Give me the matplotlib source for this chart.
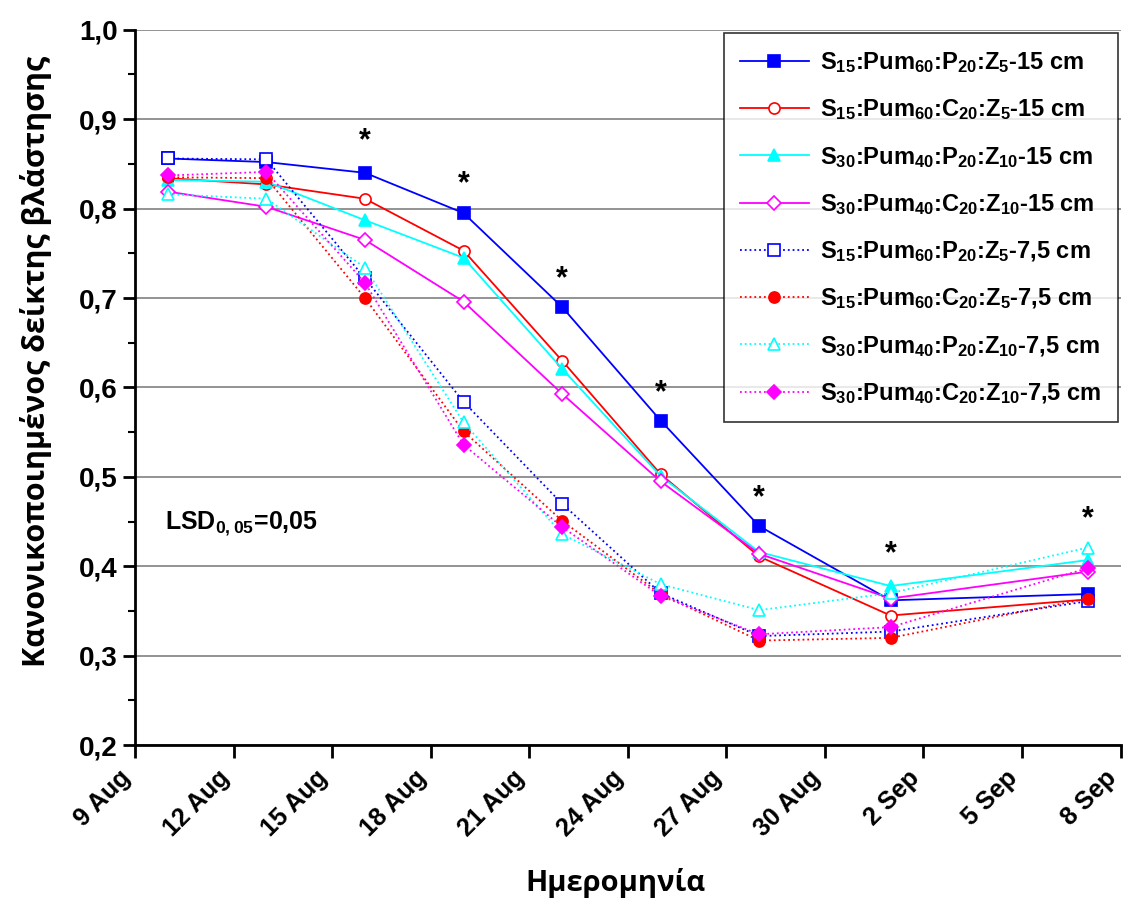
import matplotlib
matplotlib.use('Agg')
import matplotlib.pyplot as plt
import matplotlib.transforms as mtransforms
import numpy as np
import pandas as pd

plt.rcParams['font.family'] = ['Liberation Sans', 'DejaVu Sans']
plt.rcParams['mathtext.fontset'] = 'custom'
plt.rcParams['mathtext.bf'] = 'Liberation Sans:bold'
plt.rcParams['mathtext.rm'] = 'Liberation Sans:bold'

dates = pd.to_datetime(['2013-08-10', '2013-08-13', '2013-08-16', '2013-08-19', '2013-08-22',
                        '2013-08-25', '2013-08-28', '2013-09-01', '2013-09-07'])
tick_dates = pd.date_range('2013-08-09', '2013-09-08', freq='3D')
tick_labels = ['9 Aug', '12 Aug', '15 Aug', '18 Aug', '21 Aug', '24 Aug',
               '27 Aug', '30 Aug', '2 Sep', '5 Sep', '8 Sep']

# 15 cm
s15_p20_15 = [0.856, 0.852, 0.840, 0.795, 0.690, 0.563, 0.445, 0.362, 0.369]
s15_c20_15 = [0.834, 0.827, 0.811, 0.753, 0.630, 0.503, 0.411, 0.345, 0.363]
s30_p20_15 = [0.832, 0.830, 0.787, 0.745, 0.621, 0.501, 0.416, 0.378, 0.407]
s30_c20_15 = [0.819, 0.802, 0.765, 0.696, 0.593, 0.495, 0.414, 0.364, 0.394]
# 7,5 cm
s15_p20_75 = [0.856, 0.855, 0.722, 0.584, 0.470, 0.370, 0.322, 0.327, 0.361]
s15_c20_75 = [0.835, 0.834, 0.700, 0.551, 0.451, 0.369, 0.317, 0.320, 0.364]
s30_p20_75 = [0.816, 0.811, 0.734, 0.561, 0.436, 0.380, 0.351, 0.370, 0.421]
s30_c20_75 = [0.837, 0.841, 0.717, 0.536, 0.444, 0.367, 0.324, 0.332, 0.398]

star_dates = dates[2:]
star_y = [0.875, 0.827, 0.721, 0.593, 0.476, 0.413, 0.453]


def lab(a, b, c, d, depth):
    return (r'S$\mathbf{_{%s}}$:Pum$\mathbf{_{%s}}$:%s$\mathbf{_{20}}$:Z$\mathbf{_{%s}}$-%s cm'
            % (a, b, c, d, depth))


series = [
    (s15_p20_15, '#0000ff', '-', 's', True, lab('15', '60', 'P', '5', '15')),
    (s15_c20_15, '#ff0000', '-', 'o', False, lab('15', '60', 'C', '5', '15')),
    (s30_p20_15, '#00ffff', '-', '^', True, lab('30', '40', 'P', '10', '15')),
    (s30_c20_15, '#ff00ff', '-', 'D', False, lab('30', '40', 'C', '10', '15')),
    (s15_p20_75, '#0000ff', ':', 's', False, lab('15', '60', 'P', '5', '7,5')),
    (s15_c20_75, '#ff0000', ':', 'o', True, lab('15', '60', 'C', '5', '7,5')),
    (s30_p20_75, '#00ffff', ':', '^', False, lab('30', '40', 'P', '10', '7,5')),
    (s30_c20_75, '#ff00ff', ':', 'D', True, lab('30', '40', 'C', '10', '7,5')),
]

fig = plt.figure(figsize=(11.25, 9), dpi=100)
ax = fig.add_axes([0.12, 0.172, 0.876, 0.795])

for vals, col, ls, mk, filled, label in series:
    ms = {'s': 8, 'o': 8, '^': 9, 'D': 7.5}[mk]
    ax.plot(dates, vals, color=col, linestyle=ls, linewidth=1.3, marker=mk, markersize=ms,
            markerfacecolor=col if filled else 'white', markeredgecolor=col,
            markeredgewidth=1.2, label=label, zorder=3)

for d, y in zip(star_dates, star_y):
    ax.text(d, y, '*', ha='center', va='center', fontsize=22, fontweight='bold', zorder=4)

ax.text(0.03, 0.31, r'LSD$\mathbf{_{0,05}}$=0,05', transform=ax.transAxes, fontsize=18,
        fontweight='bold', ha='left', va='center')

ax.set_ylim(0.2, 1.0)
ax.set_xlim(tick_dates[0], tick_dates[-1])
ax.set_yticks(np.arange(0.2, 1.01, 0.1))
ax.set_yticklabels(['0,2', '0,3', '0,4', '0,5', '0,6', '0,7', '0,8', '0,9', '1,0'],
                   fontsize=20, fontweight='bold')
ax.set_yticks(np.arange(0.25, 1.0, 0.1), minor=True)
ax.set_xticks(tick_dates)
ax.set_xticklabels(tick_labels, rotation=45, ha='right', va='center', rotation_mode='anchor',
                   fontsize=18, fontweight='bold')
ax.tick_params(axis='both', which='major', direction='out', length=9, width=2)
ax.tick_params(axis='x', which='major', pad=12)
ax.tick_params(axis='y', which='minor', direction='out', length=5, width=1.5)
shift = mtransforms.ScaledTranslation(-8 / 100, 0, fig.dpi_scale_trans)
for t in ax.get_xticklabels():
    t.set_transform(t.get_transform() + shift)
ax.grid(axis='y', color='#808080', linewidth=1.2)
ax.set_axisbelow(True)
for s in ['top', 'right']:
    ax.spines[s].set_visible(False)
for s in ['left', 'bottom']:
    ax.spines[s].set_linewidth(2)

ax.set_xlabel('Ημερομηνία', fontsize=21, fontweight='bold',
              family=['Open Sans', 'DejaVu Sans'])
ax.xaxis.set_label_coords(0.487, -0.172)
ax.set_ylabel('Κανονικοποιημένος δείκτης βλάστησης', fontsize=22, fontweight='bold',
              family=['Open Sans', 'DejaVu Sans'])
ax.yaxis.set_label_coords(-0.084, 0.536)

leg = ax.legend(loc='upper right', bbox_to_anchor=(1.0, 0.998), frameon=True,
                fancybox=False, edgecolor='black', handlelength=2.9, labelspacing=0.95,
                borderpad=0.7, handletextpad=0.5, borderaxespad=0.1,
                prop={'weight': 'bold', 'size': 17})
leg.get_frame().set_linewidth(1.2)

fig.savefig('out.png', dpi=100)
